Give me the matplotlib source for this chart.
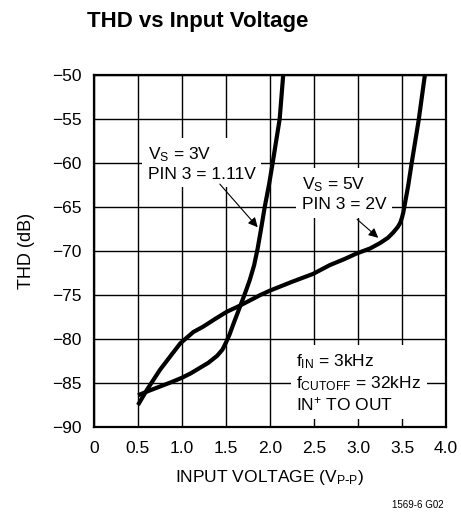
#!/usr/bin/env python3
# -*- coding: utf-8 -*-
"""THD vs input voltage (LTC1569-6 style datasheet curve)."""
import numpy as np

import matplotlib
matplotlib.use("Agg")
import matplotlib.pyplot as plt
from matplotlib import font_manager

# ---------------------------------------------------------------- data
VS3_X = [0.50, 0.62, 0.75, 0.88, 1.00, 1.10, 1.20, 1.30, 1.40, 1.46, 1.50,
         1.54, 1.58, 1.66, 1.72, 1.77, 1.82, 1.86, 1.90, 1.94, 1.99, 2.03,
         2.07, 2.11, 2.15]
VS3_Y = [-86.4, -85.9, -85.4, -84.9, -84.4, -83.9, -83.3, -82.7, -81.9,
         -81.2, -80.4, -79.5, -78.4, -76.3, -74.7, -73.3, -71.6, -69.7,
         -67.4, -65.0, -62.4, -60.0, -57.5, -55.0, -50.0]

VS5_X = [0.50, 0.60, 0.75, 0.88, 0.98, 1.06, 1.13, 1.24, 1.38, 1.51, 1.66,
         1.89, 2.00, 2.25, 2.49, 2.68, 2.85, 2.98, 3.14, 3.25, 3.34, 3.40,
         3.45, 3.48, 3.50, 3.515, 3.53, 3.57, 3.61, 3.69, 3.76]
VS5_Y = [-87.5, -85.8, -83.5, -81.8, -80.5, -79.8, -79.2, -78.6, -77.7,
         -76.9, -76.2, -75.0, -74.5, -73.5, -72.6, -71.6, -70.9, -70.3,
         -69.7, -69.1, -68.5, -67.9, -67.3, -66.8, -66.2, -65.6, -64.8,
         -62.6, -60.0, -55.1, -50.0]

X_TICKS = [0, 0.5, 1.0, 1.5, 2.0, 2.5, 3.0, 3.5, 4.0]
Y_TICKS = [-90, -85, -80, -75, -70, -65, -60, -55, -50]

# ---------------------------------------------------------------- fonts
names = {f.name for f in font_manager.fontManager.ttflist}
FONT = "Liberation Sans Narrow" if "Liberation Sans Narrow" in names else "Liberation Sans"
plt.rcParams["font.family"] = [FONT, "DejaVu Sans"]
plt.rcParams["mathtext.default"] = "regular"

fig = plt.figure(figsize=(4.61, 5.12), dpi=100)
ax = fig.add_axes([94 / 461, 1 - 427 / 512, 352 / 461, 352 / 512])

for xs, ys in ((VS3_X, VS3_Y), (VS5_X, VS5_Y)):
    ax.plot(xs, ys, color="black", lw=3.0, solid_joinstyle="round",
            solid_capstyle="butt", zorder=4)

ax.set_xlim(0, 4)
ax.set_ylim(-90, -50)
ax.set_xticks(X_TICKS)
ax.set_xticklabels([f"{v:.1f}" if v else "0" for v in X_TICKS])
ax.set_yticks(Y_TICKS)
ax.grid(True, color="black", lw=1.0, zorder=1)
ax.set_axisbelow(True)
ax.tick_params(length=0, labelsize=12.5)
ax.tick_params(axis="x", pad=10)
ax.tick_params(axis="y", pad=9)
for s in ax.spines.values():
    s.set_linewidth(1.6)
    s.set_zorder(5)

ax.set_xlabel(r"INPUT VOLTAGE (V$_{P\text{-}P}$)", fontsize=12.5, labelpad=9)
ax.set_ylabel("THD (dB)", fontsize=13, labelpad=12)

box = dict(fc="white", ec="none", pad=4)
arrow = dict(arrowstyle="-|>", color="black", lw=0.8, mutation_scale=14,
             shrinkA=0, shrinkB=0)

ax.text(0.61, -60.05, "V$_S$ = 3V\nPIN 3 = 1.11V", fontsize=12.5,
        va="center", ha="left", linespacing=1.25, bbox=box, zorder=3)
ax.annotate("", xy=(1.86, -67.3), xytext=(1.43, -62.4), arrowprops=arrow,
            zorder=6)

ax.text(2.36, -63.5, "V$_S$ = 5V\nPIN 3 = 2V", fontsize=12.5,
        va="center", ha="left", linespacing=1.25, bbox=box, zorder=3)
ax.annotate("", xy=(3.23, -68.5), xytext=(2.99, -66.4), arrowprops=arrow,
            zorder=6)

ax.text(2.30, -85.0, "f$_{IN}$ = 3kHz\nf$_{CUTOFF}$ = 32kHz\nIN$^{+}$ TO OUT",
        fontsize=12.5, va="center", ha="left", linespacing=1.2, bbox=box,
        zorder=3)

fig.text(198 / 461, 1 - 22 / 512, "THD vs Input Voltage", fontsize=16,
         fontweight="bold", ha="center", va="center")
fig.text(418 / 461, 1 - 505 / 512, "1569-6 G02", fontsize=7,
         ha="center", va="center")

fig.savefig("out.png", dpi=100)
